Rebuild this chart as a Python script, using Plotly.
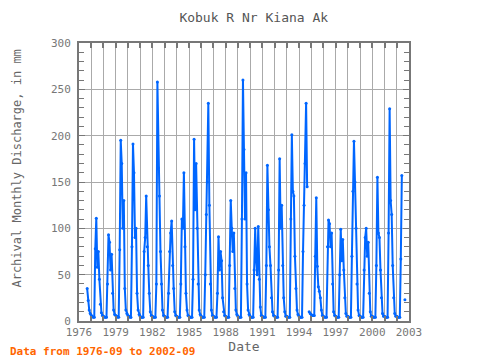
import plotly.graph_objects as go

# Monthly values (Jan..Dec) per year, None = missing
years = list(range(1976, 2003))
v1976 = [None, None, None, None, None, None, None, None, 35, 22, 12, 8]
v1977 = [6, 5, 4, 4, 78, 111, 58, 75, 45, 18, 9, 6]
v1978 = [5, 4, 4, 4, 40, 93, 85, 55, 72, 30, 12, 7]
v1979 = [6, 5, 4, 4, 77, 195, 170, 100, 130, 35, 12, 8]
v1980 = [6, 5, 4, 4, 80, 191, 160, 90, 100, 30, 12, 7]
v1981 = [5, 4, 4, 4, 75, 90, 135, 80, 60, 30, 10, 6]
v1982 = [5, 4, 4, 4, 40, 258, 165, 135, 75, 40, 12, 6]
v1983 = [5, 4, 4, 4, 30, 75, 95, 108, 60, 35, 10, 6]
v1984 = [5, 4, 4, 4, 40, 110, 100, 160, 80, 30, 12, 6]
v1985 = [5, 4, 4, 4, 45, 196, 120, 170, 100, 40, 12, 7]
v1986 = [5, 4, 4, 4, 50, 115, 150, 235, 125, 40, 12, 6]
v1987 = [5, 4, 4, 4, 30, 91, 55, 75, 65, 25, 10, 6]
v1988 = [5, 4, 4, 4, 60, 130, 100, 75, 95, 35, 12, 7]
v1989 = [5, 4, 4, 4, 110, 260, 185, 110, 160, 40, 12, 7]
v1990 = [5, 4, 4, 4, 55, 100, 65, 50, 102, 45, 15, 6]
v1991 = [5, 4, 4, 4, 60, 168, 120, 80, 60, 25, 10, 6]
v1992 = [5, 4, 4, 4, 55, 175, 100, 125, 60, 25, 10, 5]
v1993 = [5, 4, 4, 4, 110, 201, 140, 135, 70, 35, 12, 7]
v1994 = [5, 4, 4, 4, 75, 125, 170, 235, 145, None, 10, 8]
v1995 = [7, 6, 6, 6, 70, 133, 59, 37, 32, 25, 12, 6]
v1996 = [5, 4, 4, 4, 80, 109, 105, 80, 95, 40, 10, 6]
v1997 = [5, 4, 4, 4, 50, 99, 65, 88, 55, 25, 8, 5]
v1998 = [5, 4, 4, 4, 70, 140, 194, 150, 100, 40, 12, 6]
v1999 = [5, 4, 4, 4, 55, 90, 100, 70, 85, 30, 10, 5]
v2000 = [5, 4, 4, 4, 60, 155, 95, 90, 55, 25, 8, 5]
v2001 = [5, 4, 4, 4, 95, 229, 130, 115, 60, 25, 8, 5]
v2002 = [5, 4, 4, 4, 67, 157, None, None, 23, None, None, None]

all_years = [v1976, v1977, v1978, v1979, v1980, v1981, v1982, v1983, v1984,
             v1985, v1986, v1987, v1988, v1989, v1990, v1991, v1992, v1993,
             v1994, v1995, v1996, v1997, v1998, v1999, v2000, v2001, v2002]

dates, values = [], []
for y, vals in zip(years, all_years):
    for m, v in enumerate(vals, start=1):
        if (y == 1976 and m < 9) or (y == 2002 and m > 9):
            continue
        dates.append(f"{y}-{m:02d}-01")
        values.append(v)

x_tick_years = list(range(1976, 2004, 3))

fig = go.Figure()
fig.add_trace(go.Scatter(
    x=dates, y=values, mode="lines+markers",
    line=dict(color="#0066ff", width=2),
    marker=dict(color="#0066ff", size=3),
    connectgaps=False, showlegend=False,
))

font = "DejaVu Sans Mono"
fig.update_layout(
    width=480, height=360,
    margin=dict(l=71, r=79, t=35, b=47, autoexpand=False),
    paper_bgcolor="white", plot_bgcolor="white",
    title=dict(text="Kobuk R Nr Kiana Ak", x=0.512, xanchor="center", y=0.975, yanchor="middle",
               font=dict(family=font, size=13, color="#555555")),
    font=dict(family=font, size=11, color="#666666"),
)
fig.update_xaxes(
    automargin=False,
    range=["1976-01-01", "2003-01-01"],
    tickvals=[f"{y}-01-01" for y in x_tick_years],
    ticktext=[str(y) for y in x_tick_years],
    showgrid=False,
    ticks="inside", ticklen=5, tickcolor="#777777", tickwidth=2,
    minor=dict(dtick="M12", tick0="1976-01-01", showgrid=True, gridcolor="#aaaaaa", gridwidth=1,
               ticks="inside", ticklen=5, tickcolor="#777777"),
    showline=True, linecolor="#777777", linewidth=2, mirror="ticks",
    title=dict(text="Date", font=dict(family=font, size=13, color="#666666"), standoff=2),
    tickfont=dict(family=font, size=11, color="#777777"),
)
fig.update_yaxes(
    automargin=False,
    range=[0, 300], dtick=50, tick0=0,
    showgrid=True, gridcolor="#aaaaaa", gridwidth=1,
    ticks="inside", ticklen=6, tickcolor="#777777", tickwidth=1,
    minor=dict(dtick=10, ticks="inside", ticklen=5, tickcolor="#777777", showgrid=False),
    showline=True, linecolor="#777777", linewidth=2, mirror="ticks",
    zeroline=False, ticklabelstandoff=4,
    tickfont=dict(family=font, size=11, color="#777777"),
)
fig.add_annotation(text="Archival Monthly Discharge, in mm", textangle=-90,
                   xref="paper", yref="paper", x=-0.189, y=0.547,
                   xanchor="center", yanchor="middle", showarrow=False,
                   font=dict(family=font, size=12, color="#666666"))
fig.add_annotation(text="<b>Data from 1976-09 to 2002-09</b>", xref="paper", yref="paper",
                   x=-0.215, y=-0.111, xanchor="left", yanchor="middle", showarrow=False,
                   font=dict(family=font, size=11, color="#ff6600"))

fig.write_html("out.html")
